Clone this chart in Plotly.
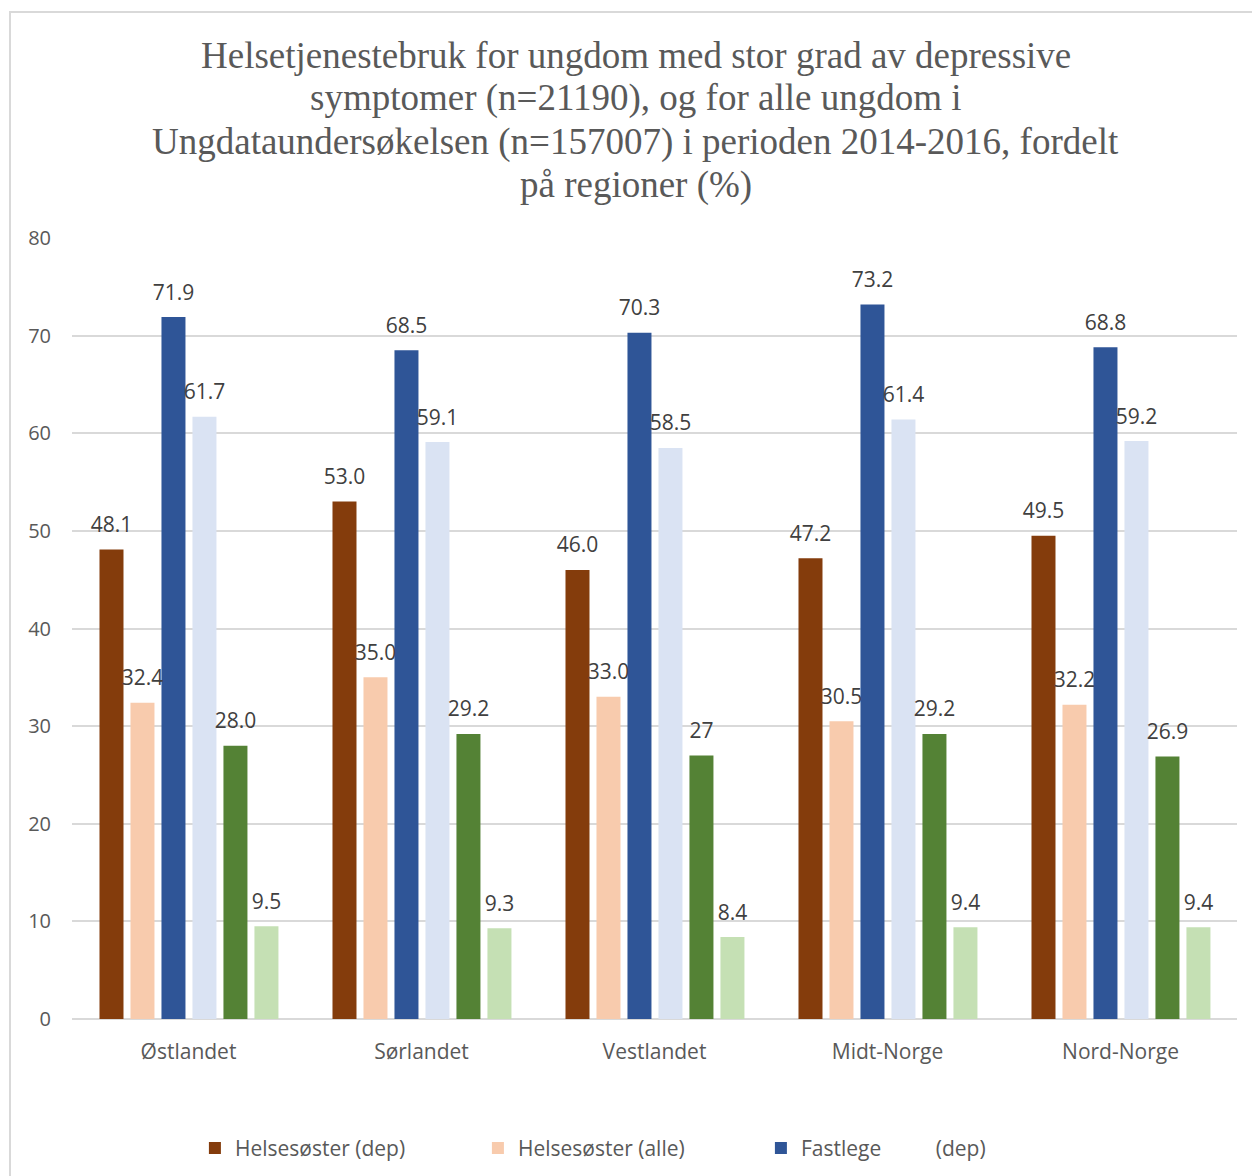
import plotly.graph_objects as go

# Regions on the category axis
regions = ["Østlandet", "Sørlandet", "Vestlandet", "Midt-Norge", "Nord-Norge"]

# Share (%) per region for each service / group
helsesoster_dep = [48.1, 53.0, 46.0, 47.2, 49.5]
helsesoster_alle = [32.4, 35.0, 33.0, 30.5, 32.2]
fastlege_dep = [71.9, 68.5, 70.3, 73.2, 68.8]
fastlege_alle = [61.7, 59.1, 58.5, 61.4, 59.2]
psykolog_dep = [28.0, 29.2, 27, 29.2, 26.9]
psykolog_alle = [9.5, 9.3, 8.4, 9.4, 9.4]

y_ticks = [0, 10, 20, 30, 40, 50, 60, 70, 80]

title_lines = [
    "Helsetjenestebruk for ungdom med stor grad av depressive",
    "symptomer (n=21190), og for alle ungdom i",
    "Ungdataundersøkelsen (n=157007) i perioden 2014-2016, fordelt",
    "på regioner (%)",
]

series = [
    ("Helsesøster (dep)", helsesoster_dep, "#843C0C", True),
    ("Helsesøster (alle)", helsesoster_alle, "#F8CBAD", True),
    ("Fastlege" + "\u00a0" * 10 + "(dep)", fastlege_dep, "#2F5597", True),
    ("Fastlege (alle)", fastlege_alle, "#DAE3F3", False),
    ("Psykolog (dep)", psykolog_dep, "#548235", False),
    ("Psykolog (alle)", psykolog_alle, "#C5E0B4", False),
]


def fmt(v):
    return f"{v:.1f}" if isinstance(v, float) else str(v)


# Bar geometry inside each category slot (category units)
BAR_W = 0.103
PITCH = 0.133
FIRST = -0.382

SANS = "Open Sans, Noto Sans, sans-serif"
XTICK_FONT = dict(family=SANS, size=21, color="#595959")
YTICK_FONT = dict(family=SANS, size=20, color="#595959")
LEGEND_FONT = dict(family=SANS, size=21, color="#595959")
LABEL_FONT = dict(family=SANS, size=21, color="#404040")
TITLE_FONT = dict(family="Liberation Serif, Times New Roman, serif", size=37, color="#595959")

fig = go.Figure()
xs_base = list(range(len(regions)))

for k, (name, vals, color, show) in enumerate(series):
    off = FIRST + k * PITCH
    fig.add_trace(go.Bar(
        x=xs_base, y=vals, name=name, marker_color=color,
        marker_line_width=0, width=BAR_W, offset=off,
        showlegend=show, hoverinfo="y+name",
    ))

# Value labels above each bar
for k, (name, vals, color, show) in enumerate(series):
    off = FIRST + k * PITCH
    fig.add_trace(go.Scatter(
        x=[i + off + BAR_W / 2 for i in xs_base], y=vals,
        mode="markers+text", text=[fmt(v) for v in vals],
        textposition="top center", textfont=LABEL_FONT,
        marker=dict(size=18, opacity=0), showlegend=False, hoverinfo="skip",
        cliponaxis=False,
    ))

# Light frame around the chart area
fig.add_shape(type="rect", xref="paper", yref="paper",
              x0=-0.0532, x1=1.03, y0=-0.25, y1=1.2894,
              line=dict(color="#D9D9D9", width=2), fillcolor="rgba(0,0,0,0)",
              layer="below")

# Four-line title, one annotation per line
for line, yp in zip(title_lines, [1.2343, 1.1793, 1.1229, 1.0679]):
    fig.add_annotation(text=line, xref="paper", yref="paper", x=0.4841, y=yp,
                       xanchor="center", yanchor="middle", showarrow=False,
                       font=TITLE_FONT)

fig.update_layout(
    width=1252, height=1176,
    margin=dict(l=72, r=15, t=238, b=157, autoexpand=False),
    paper_bgcolor="white", plot_bgcolor="white",
    barmode="overlay",
    xaxis=dict(
        range=[-0.5, 4.5], tickvals=xs_base, ticktext=regions,
        showgrid=False, zeroline=False, showline=False, ticks="",
        tickfont=XTICK_FONT, ticklabelstandoff=18,
    ),
    yaxis=dict(
        range=[0, 80], tickvals=y_ticks, showgrid=True, gridcolor="#D9D9D9",
        gridwidth=1.5, zeroline=True, zerolinecolor="#D9D9D9", zerolinewidth=1.5,
        showline=False, ticks="", tickfont=YTICK_FONT, ticklabelstandoff=20,
    ),
    legend=dict(
        orientation="h", x=0.1055, xanchor="left", y=-0.1655, yanchor="middle",
        font=LEGEND_FONT, entrywidth=238, entrywidthmode="pixels",
        itemwidth=30, traceorder="normal",
    ),
)

fig.write_html("out.html")
